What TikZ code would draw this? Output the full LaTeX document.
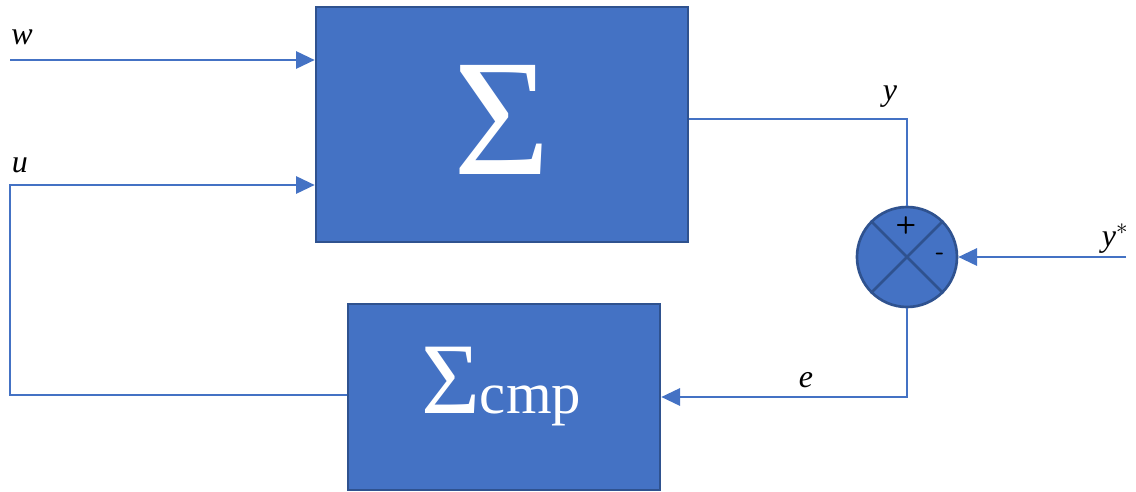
\documentclass[tikz,border=0pt]{standalone}
\usepackage{fontspec}
\setmainfont{Liberation Serif}
\usetikzlibrary{arrows.meta}
\definecolor{blk}{HTML}{4472C4}
\definecolor{edge}{HTML}{2F528F}
\tikzset{
  block/.style={draw=edge, line width=2pt, fill=blk, text=white, inner sep=0pt},
  sig/.style={draw=blk, line width=1.5pt},
  arr/.style={sig, -{Triangle[length=14pt, width=13pt]}},
  lbl/.style={font=\fontsize{24}{24}\selectfont\itshape, inner sep=0pt},
  pm/.style={inner sep=0pt, text=black, font=\sffamily\bfseries\fontsize{18}{18}\selectfont},
}
\begin{document}
\begin{tikzpicture}[x=0.75pt,y=-0.75pt]
\useasboundingbox (0,0) rectangle (1136,492);
\node[block, minimum width=279pt, minimum height=176.25pt] (sys) at (502,124.5) {};
\node[text=white, inner sep=0pt, anchor=base] (syst) at (502,175) {\fontsize{125}{125}\selectfont Σ};
\node[block, minimum width=234pt, minimum height=139.5pt] (cmp) at (504,397) {};
\node[text=white, inner sep=0pt, anchor=base] (cmpt) at (501,413) {\fontsize{76}{76}\selectfont Σ\fontsize{44}{44}\selectfont cmp};
\node[circle, block, minimum size=75pt, line width=2pt] (sum) at (907,257) {};
\draw[edge, line width=2pt] (sum.north west) -- (sum.south east) (sum.north east) -- (sum.south west);
\node[pm] (plus) at (906,225) {+};
\node[pm] (minus) at (940,256) {-};
\coordinate (win) at (10,60);
\coordinate (uin) at (10,185);
\coordinate (ucorner) at (10,395);
\coordinate (ycorner) at (907,119);
\coordinate (ystar) at (1126,257);
\coordinate (ecorner) at (907,397);
\draw[arr] (win) -- (win -| sys.west);
\draw[arr] (ucorner -| cmp.west) -- (ucorner) -- (uin) -- (uin -| sys.west);
\draw[sig] (ycorner -| sys.east) -- (ycorner) -- (sum.north);
\draw[arr] (ystar) -- (sum.east);
\draw[arr] (sum.south) -- (ecorner) -- (ecorner -| cmp.east);
\node[lbl] (wl) at (22,37) {w};
\node[lbl] (ul) at (20,165) {u};
\node[lbl] (yl) at (890,97) {y};
\node[lbl] (el) at (806,380) {e};
\node[lbl] (ysl) at (1115,239) {y$^{*}$};
\end{tikzpicture}
\end{document}
